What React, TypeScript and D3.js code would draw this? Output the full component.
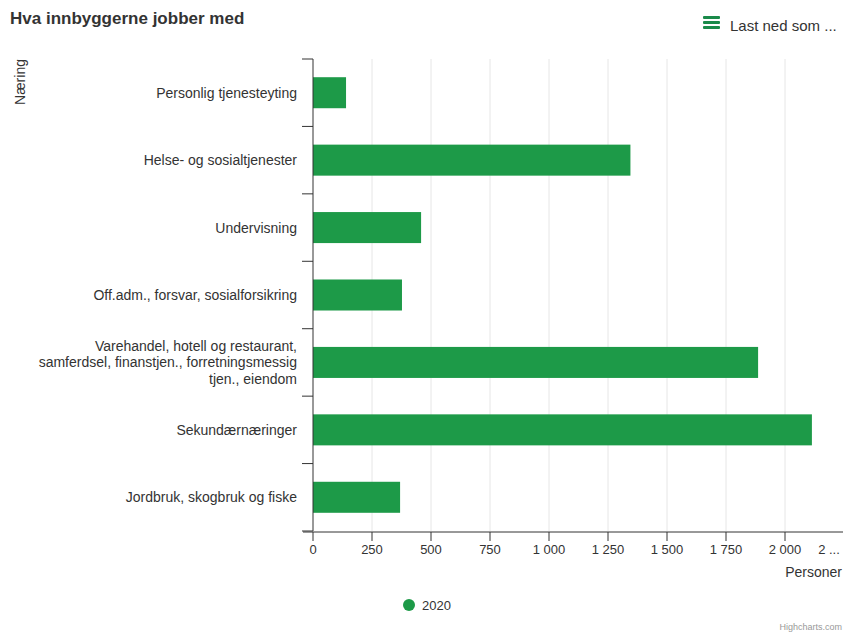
import React from "react";
import * as d3 from "d3";

const categories = [
  ["Personlig tjenesteyting"],
  ["Helse- og sosialtjenester"],
  ["Undervisning"],
  ["Off.adm., forsvar, sosialforsikring"],
  ["Varehandel, hotell og restaurant,", "samferdsel, finanstjen., forretningsmessig", "tjen., eiendom"],
  ["Sekundærnæringer"],
  ["Jordbruk, skogbruk og fiske"],
];
const values2020 = [140, 1345, 458, 377, 1886, 2114, 369];
const xTicks = [0, 250, 500, 750, 1000, 1250, 1500, 1750, 2000, 2250];
const seriesName = "2020";

const W = 843;
const H = 633;
const left = 313;
const top = 59;
const bottom = 531;
const green = "#1d9a48";
const font = "'Liberation Sans', Arial, Helvetica, sans-serif";

export default function App() {
  const x = d3.scaleLinear().domain([0, 2250]).range([left, 844]);
  const y = d3
    .scaleBand<number>()
    .domain(categories.map((_, i) => i))
    .range([top, bottom])
    .paddingInner(0.54)
    .paddingOuter(0.27);
  const step = (bottom - top) / categories.length;
  const fmt = (v: number) => (v >= 1000 ? d3.format(",")(v).replace(",", " ") : String(v));

  return (
    <svg
      width={W}
      height={H}
      style={{ position: "absolute", left: 0, top: 0, background: "#fff", fontFamily: font }}
    >
      <text x={10} y={24} fontSize={17} fontWeight="bold" fill="#333">
        Hva innbyggerne jobber med
      </text>
      {/* menu */}
      {[0, 5, 10].map((d) => (
        <rect key={d} x={703} y={16 + d} width={17} height={3} rx={1} fill="#1a8a4a" />
      ))}
      <text x={730} y={31} fontSize={15} fill="#333">
        Last ned som ...
      </text>

      {/* grid */}
      {xTicks.slice(1).map((t) => (
        <line key={t} x1={x(t)} x2={x(t)} y1={top} y2={bottom} stroke="#e6e6e6" strokeWidth={1} />
      ))}

      {/* bars */}
      {values2020.map((v, i) => (
        <rect key={i} x={x(0)} y={y(i)!} width={x(v) - x(0)} height={y.bandwidth()} fill={green} />
      ))}

      {/* y axis */}
      <line x1={left} x2={left} y1={top} y2={bottom} stroke="#333" strokeWidth={1} />
      {d3.range(categories.length + 1).map((i) => (
        <line
          key={i}
          x1={left - 11}
          x2={left}
          y1={top + i * step}
          y2={top + i * step}
          stroke="#333"
          strokeWidth={1}
        />
      ))}
      {categories.map((lines, i) => {
        const cy = y(i)! + y.bandwidth() / 2;
        const lh = 16.5;
        const y0 = cy - ((lines.length - 1) * lh) / 2 + 5;
        return (
          <text key={i} x={297} textAnchor="end" fontSize={14} fill="#333">
            {lines.map((l, j) => (
              <tspan key={j} x={297} y={y0 + j * lh}>
                {l}
              </tspan>
            ))}
          </text>
        );
      })}
      <text
        transform="translate(25,82) rotate(-90)"
        textAnchor="middle"
        fontSize={14}
        fill="#333"
      >
        Næring
      </text>

      {/* x axis */}
      <line x1={left - 10} x2={W} y1={bottom + 1} y2={bottom + 1} stroke="#333" strokeWidth={1} />
      {xTicks.map((t) => (
        <line key={t} x1={x(t)} x2={x(t)} y1={bottom + 1} y2={bottom + 10} stroke="#333" strokeWidth={1} />
      ))}
      {xTicks.map((t) => (
        <text key={t} x={t === 2250 ? 829 : x(t)} y={554} textAnchor="middle" fontSize={13} fill="#333">
          {t === 2250 ? "2 ..." : fmt(t)}
        </text>
      ))}
      <text x={842} y={577} textAnchor="end" fontSize={14} fill="#333">
        Personer
      </text>

      {/* legend */}
      <circle cx={409} cy={605} r={6} fill={green} />
      <text x={422} y={610} fontSize={13} fill="#333">
        {seriesName}
      </text>

      <text x={842} y={630} textAnchor="end" fontSize={9} fill="#999">
        Highcharts.com
      </text>
    </svg>
  );
}
